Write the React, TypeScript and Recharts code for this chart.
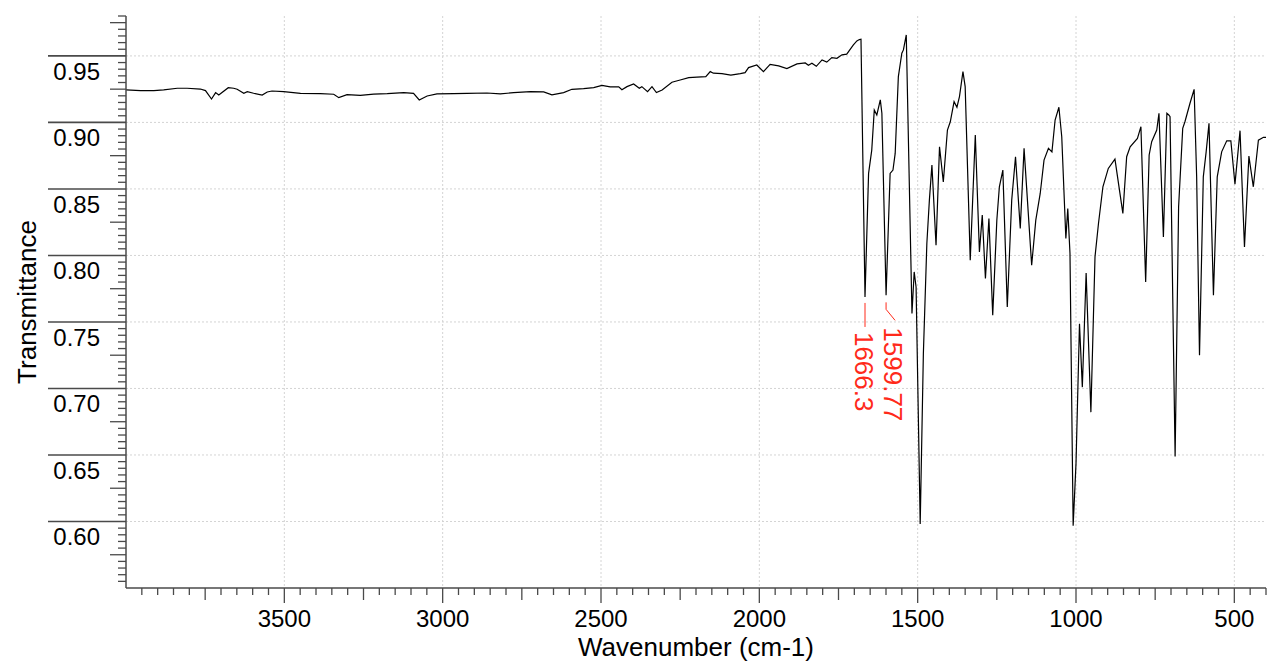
import React from 'react';
import { LineChart, Line, XAxis, YAxis, CartesianGrid, ReferenceDot } from 'recharts';

const FONT = '"Liberation Sans", Arial, sans-serif';

const wavenumbers = [
  4000, 3954, 3912, 3881, 3838, 3807, 3765, 3749, 3730, 3717, 3707, 3677, 3660, 3649, 3628, 3617,
  3597, 3570, 3554, 3539, 3502, 3449, 3386, 3344, 3328, 3302, 3260, 3218, 3175, 3123, 3092, 3074,
  3049, 3018, 2965, 2923, 2860, 2818, 2776, 2723, 2681, 2655, 2618, 2592, 2555, 2523, 2497, 2471,
  2444, 2434, 2418, 2397, 2379, 2371, 2353, 2339, 2325, 2307, 2276, 2250, 2223, 2197, 2169, 2155,
  2145, 2118, 2090, 2060, 2045, 2034, 2008, 1987, 1966, 1939, 1913, 1881, 1855, 1845, 1834, 1820,
  1802, 1787, 1771, 1755, 1739, 1724, 1703, 1692, 1684, 1679, 1666.3, 1655, 1645, 1637, 1629, 1618,
  1613, 1599.77, 1587, 1578, 1571, 1561, 1550, 1545, 1536, 1518, 1511, 1505, 1492, 1482, 1471, 1463,
  1455, 1442, 1431, 1419, 1406, 1397, 1385, 1376, 1368, 1357, 1350, 1334, 1318, 1305, 1296, 1286,
  1275, 1263, 1250, 1242, 1231, 1217, 1203, 1191, 1176, 1164, 1140, 1127, 1113, 1101, 1087, 1076,
  1066, 1054, 1045, 1032, 1026, 1019, 1009, 1000, 989, 980, 968, 953, 940, 929, 915, 898,
  877, 852, 840, 829, 806, 795, 780, 769, 761, 745, 738, 724, 713, 707, 703, 687,
  676, 663, 656, 640, 627, 619, 610, 598, 589, 580, 566, 554, 540, 524, 511, 498,
  482, 468, 454, 440, 424, 408, 400,
];

// Transmittance values at the wavenumbers above
const transmittance = [
  0.9244, 0.9239, 0.9239, 0.9244, 0.9257, 0.9257, 0.9251, 0.9239, 0.9176, 0.9224, 0.9206, 0.9261, 0.9257, 0.9249, 0.9219, 0.9231,
  0.9219, 0.9206, 0.9229, 0.9236, 0.9231, 0.9219, 0.9216, 0.9212, 0.9186, 0.9209, 0.9204, 0.9212, 0.9216, 0.9224, 0.9219, 0.9169,
  0.9199, 0.9214, 0.9216, 0.9219, 0.9221, 0.9214, 0.9224, 0.9231, 0.9229, 0.9207, 0.9224, 0.9249, 0.9254, 0.9261, 0.9279, 0.9267,
  0.9267, 0.9246, 0.9269, 0.9289, 0.9257, 0.9269, 0.9231, 0.9269, 0.9224, 0.9244, 0.9302, 0.9319, 0.9337, 0.934, 0.9344, 0.9382,
  0.937, 0.9367, 0.9355, 0.9367, 0.9374, 0.9412, 0.9432, 0.9382, 0.9437, 0.9425, 0.9405, 0.944, 0.9447, 0.943, 0.9445, 0.9422,
  0.947, 0.9453, 0.9487, 0.9482, 0.9508, 0.9513, 0.9583, 0.9613, 0.9623, 0.9626, 0.7688, 0.8617, 0.8792, 0.9093, 0.9056, 0.9169,
  0.9069, 0.77, 0.8617, 0.8642, 0.8767, 0.9344, 0.952, 0.9545, 0.9658, 0.7563, 0.7876, 0.7763, 0.5981, 0.7261, 0.809, 0.8416,
  0.8679, 0.8077, 0.8817, 0.8553, 0.8943, 0.9005, 0.9156, 0.9114, 0.9194, 0.9382, 0.9269, 0.7964, 0.8905, 0.8026, 0.8303, 0.7826,
  0.8278, 0.755, 0.8265, 0.8516, 0.8642, 0.7612, 0.8416, 0.8742, 0.8203, 0.8805, 0.7926, 0.8265, 0.8466, 0.8717, 0.8805, 0.8779,
  0.9018, 0.9114, 0.8892, 0.8127, 0.8353, 0.8014, 0.5968, 0.6435, 0.7487, 0.701, 0.7868, 0.6822, 0.7989, 0.824, 0.8516, 0.8654,
  0.8724, 0.8316, 0.8742, 0.8817, 0.888, 0.8968, 0.78, 0.8755, 0.8855, 0.8943, 0.9069, 0.8139, 0.9069, 0.9056, 0.9043, 0.6488,
  0.8365, 0.8955, 0.9005, 0.9144, 0.9249, 0.8591, 0.7249, 0.8591, 0.8779, 0.8993, 0.77, 0.8591, 0.8779, 0.8862, 0.8862, 0.8536,
  0.8938, 0.8064, 0.8747, 0.8516, 0.8867, 0.8888, 0.8888,
];

// Peak annotations
const peakWavenumbers = [1666.3, 1599.77];
const peakTransmittance = [0.7688, 0.77];
const peakLabels = ['1666.3', '1599.77'];

// Axis ticks
const xMajorTicks = [500, 1000, 1500, 2000, 2500, 3000, 3500];
const yMajorTicks = [0.6, 0.65, 0.7, 0.75, 0.8, 0.85, 0.9, 0.95];
const yTickLabels = ['0.60', '0.65', '0.70', '0.75', '0.80', '0.85', '0.90', '0.95'];

const data = wavenumbers.map((w, i) => ({ wn: w, t: transmittance[i] }));

const xTicks: number[] = [];
for (let v = 400; v <= 3950; v += 50) xTicks.push(v);
const yTicks: number[] = [];
for (let k = 111; k <= 196; k++) yTicks.push(k / 200);

const AXIS_COLOR = '#4a4a4a';

const XTick = (props: any) => {
  const { x, y, payload } = props;
  const v = Math.round(payload.value);
  const len = v % 500 === 0 ? 15 : v % 250 === 0 ? 12 : 7;
  const showLabel = xMajorTicks.includes(v);
  return (
    <g>
      <line x1={x} x2={x} y1={y} y2={y + len} stroke={AXIS_COLOR} strokeWidth={1.3} />
      {showLabel && (
        <text x={x} y={y + 39} textAnchor="middle" fontSize={24} fontFamily={FONT} fill="#000">
          {v}
        </text>
      )}
    </g>
  );
};

const YTick = (props: any) => {
  const { x, y, payload } = props;
  const k = Math.round(payload.value * 200);
  const isMajor = k % 10 === 0;
  const isMed = k % 5 === 0;
  const len = isMajor ? 78 : isMed ? 16 : 8;
  const idx = yMajorTicks.findIndex((m) => Math.abs(m - payload.value) < 1e-6);
  return (
    <g>
      <line x1={x - len} x2={x} y1={y} y2={y} stroke={AXIS_COLOR} strokeWidth={isMajor ? 1.6 : 1.3} />
      {idx >= 0 && (
        <text x={x - 26} y={y + 24} textAnchor="end" fontSize={24} fontFamily={FONT} fill="#000">
          {yTickLabels[idx]}
        </text>
      )}
    </g>
  );
};

const PeakMark = ({ cx, cy, label, shifted }: any) => {
  if (cx == null || cy == null) return null;
  const red = '#ff2a1a';
  if (!shifted) {
    const tx = cx - 1;
    const ty = cy + 35;
    return (
      <g>
        <line x1={cx} x2={cx} y1={cy + 6} y2={cy + 30} stroke={red} strokeWidth={1} />
        <text
          x={tx}
          y={ty}
          transform={`rotate(90 ${tx} ${ty})`}
          dy="0.36em"
          fontSize={26}
          fontFamily={FONT}
          fill={red}
        >
          {label}
        </text>
      </g>
    );
  }
  const tx = cx + 7;
  const ty = cy + 32;
  return (
    <g>
      <polyline
        points={`${cx},${cy + 7} ${cx},${cy + 14} ${cx + 9},${cy + 25}`}
        fill="none"
        stroke={red}
        strokeWidth={1}
      />
      <text
        x={tx}
        y={ty}
        transform={`rotate(90 ${tx} ${ty})`}
        dy="0.36em"
        fontSize={26}
        fontFamily={FONT}
        fill={red}
      >
        {label}
      </text>
    </g>
  );
};

export default function App() {
  return (
    <div style={{ position: 'absolute', left: 0, top: 0, background: '#fff' }}>
      <LineChart width={1269} height={669} data={data} margin={{ top: 16, right: 3, left: 0, bottom: 0 }}>
        <CartesianGrid
          stroke="#d4d4d4"
          strokeDasharray="2 2"
          horizontalValues={yMajorTicks}
          verticalValues={xMajorTicks}
        />
        <XAxis
          dataKey="wn"
          type="number"
          domain={[400, 4000]}
          reversed
          allowDataOverflow
          ticks={xTicks}
          interval={0}
          tickSize={0}
          tickMargin={0}
          tickLine={false}
          tick={<XTick />}
          axisLine={{ stroke: AXIS_COLOR, strokeWidth: 1.5 }}
          height={81}
          label={{
            content: (p: any) => {
              const vb = p.viewBox || { x: 126, y: 588, width: 1140 };
              return (
                <text x={vb.x + vb.width / 2} y={vb.y + 68} textAnchor="middle" fontSize={26} fontFamily={FONT} fill="#000">
                  Wavenumber (cm-1)
                </text>
              );
            },
          }}
        />
        <YAxis
          type="number"
          domain={[0.55, 0.98]}
          allowDataOverflow
          ticks={yTicks}
          interval={0}
          tickSize={0}
          tickMargin={0}
          tickLine={false}
          tick={<YTick />}
          axisLine={{ stroke: AXIS_COLOR, strokeWidth: 1.5 }}
          width={126}
          label={{
            content: (p: any) => {
              const vb = p.viewBox || { x: 0, y: 16, height: 572 };
              const bx = vb.x + 36;
              const by = vb.y + vb.height / 2;
              return (
                <text x={bx} y={by} transform={`rotate(-90 ${bx} ${by})`} textAnchor="middle" fontSize={26} fontFamily={FONT} fill="#000">
                  Transmittance
                </text>
              );
            },
          }}
        />
        <Line
          type="linear"
          dataKey="t"
          stroke="#000"
          strokeWidth={1.2}
          dot={false}
          activeDot={false}
          isAnimationActive={false}
        />
        {peakWavenumbers.map((w, i) => (
          <ReferenceDot
            key={peakLabels[i]}
            x={w}
            y={peakTransmittance[i]}
            r={0}
            shape={(p: any) => <PeakMark cx={p.cx} cy={p.cy} label={peakLabels[i]} shifted={i === 1} />}
          />
        ))}
      </LineChart>
    </div>
  );
}
